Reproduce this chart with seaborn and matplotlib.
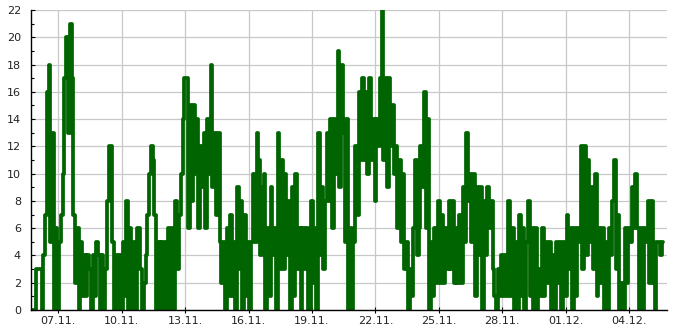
import numpy as np
import pandas as pd
import matplotlib
matplotlib.use("Agg")
import matplotlib.pyplot as plt
from matplotlib.ticker import MultipleLocator
import seaborn as sns

# ---- data (2-hour samples) ----
start_time = "2023-11-05 17:00"
step_hours = 2
values = [
    0, 0, 0, 3, 3, 3, 0, 4, 7, 16,
    18, 5, 13, 0, 6, 0, 5, 7, 10, 17,
    20, 13, 21, 17, 7, 2, 6, 0, 5, 1,
    4, 1, 4, 3, 0, 4, 1, 5, 4, 0,
    4, 0, 3, 8, 12, 12, 5, 0, 4, 0,
    4, 0, 5, 1, 8, 0, 6, 0, 5, 0,
    6, 6, 3, 0, 2, 4, 7, 10, 12, 11,
    7, 0, 5, 0, 5, 0, 5, 0, 6, 0,
    6, 0, 8, 3, 7, 10, 14, 17, 17, 6,
    15, 8, 15, 10, 14, 6, 12, 9, 13, 6,
    14, 10, 18, 9, 13, 7, 13, 5, 2, 5,
    0, 6, 1, 7, 1, 5, 0, 9, 3, 8,
    0, 7, 1, 5, 0, 5, 10, 5, 13, 11,
    4, 9, 10, 0, 6, 1, 9, 4, 6, 0,
    13, 3, 11, 3, 10, 4, 8, 0, 9, 1,
    10, 3, 6, 0, 6, 3, 6, 0, 0, 8,
    2, 6, 0, 13, 4, 9, 3, 8, 13, 8,
    14, 6, 14, 10, 19, 9, 18, 13, 5, 14,
    0, 6, 0, 5, 12, 7, 16, 11, 17, 11,
    16, 10, 17, 11, 14, 8, 14, 12, 17, 22,
    11, 17, 9, 17, 12, 15, 10, 12, 6, 11,
    5, 10, 3, 5, 0, 3, 1, 6, 11, 4,
    6, 12, 9, 16, 6, 14, 0, 5, 1, 6,
    2, 8, 2, 7, 2, 6, 3, 8, 3, 8,
    2, 6, 2, 7, 2, 9, 5, 13, 8, 10,
    5, 10, 1, 9, 4, 9, 0, 8, 4, 9,
    6, 8, 3, 1, 0, 3, 1, 4, 1, 4,
    1, 8, 1, 6, 0, 5, 0, 7, 1, 6,
    0, 5, 8, 1, 6, 0, 6, 0, 3, 1,
    6, 1, 5, 2, 5, 0, 4, 0, 5, 2,
    5, 0, 5, 1, 7, 3, 6, 0, 6, 1,
    6, 5, 12, 3, 12, 4, 11, 5, 9, 3,
    10, 1, 6, 2, 6, 0, 5, 0, 6, 4,
    8, 11, 3, 7, 0, 2, 0, 6, 2, 6,
    5, 9, 6, 10, 6, 0, 6, 0, 6, 5,
    8, 2, 8, 2, 0, 5, 5, 4, 5, 5,
]
tick_dates = ["2023-11-07", "2023-11-10", "2023-11-13", "2023-11-16",
              "2023-11-19", "2023-11-22", "2023-11-25", "2023-11-28",
              "2023-12-01", "2023-12-04"]
tick_labels = ["07.11.", "10.11.", "13.11.", "16.11.", "19.11.",
               "22.11.", "25.11.", "28.11.", "01.12.", "04.12."]
y_ticks = list(range(0, 23, 2))
x_start = "2023-11-05 16:40"
x_end = "2023-12-05 19:00"

# ---- style ----
sns.set_theme(style="white")
plt.rcParams['font.family'] = ['DejaVu Sans']

times = pd.date_range(start_time, periods=len(values), freq=f"{step_hours}h")
df = pd.DataFrame({"time": times, "value": values})

W, H = 685, 330
fig = plt.figure(figsize=(W / 100, H / 100), dpi=100)
left, right, top, bottom = 30.7, 667, 10, 310
ax = fig.add_axes([left / W, (H - bottom) / H, (right - left) / W, (bottom - top) / H])

sns.lineplot(data=df, x="time", y="value", ax=ax, color="#006400",
             linewidth=2.7, drawstyle="steps-post", estimator=None, zorder=3)

ax.set_xlim(pd.Timestamp(x_start), pd.Timestamp(x_end))
ax.set_ylim(0, 22)
ax.set_xticks(pd.to_datetime(tick_dates))
ax.set_xticklabels(tick_labels)
ax.set_yticks(y_ticks)
ax.yaxis.set_minor_locator(MultipleLocator(1))
ax.set_xlabel("")
ax.set_ylabel("")

ax.grid(True, which="major", color="#c8c8c8", linewidth=0.9)
ax.set_axisbelow(True)
for s in ["top", "right"]:
    ax.spines[s].set_visible(False)
for s in ["left", "bottom"]:
    ax.spines[s].set_color("black")
    ax.spines[s].set_linewidth(1.0)
    ax.spines[s].set_zorder(4)

ax.tick_params(axis="y", which="major", direction="in", length=3, width=0.8,
               colors="black", labelsize=8, pad=7, left=True)
ax.tick_params(axis="y", which="minor", direction="in", length=2, width=0.8,
               colors="black", left=True)
ax.tick_params(axis="x", which="major", direction="inout", length=5, width=0.8,
               colors="black", labelsize=8, pad=2, bottom=True)
for lab in ax.get_xticklabels() + ax.get_yticklabels():
    lab.set_color("#222222")

fig.savefig("out.png", dpi=100)
